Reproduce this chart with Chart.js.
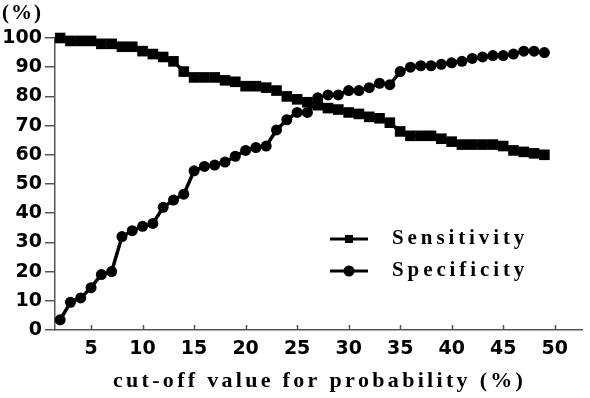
<!DOCTYPE html>
<html>
<head>
<meta charset="utf-8">
<script src="https://cdn.jsdelivr.net/npm/chart.js@4.4.1/dist/chart.umd.min.js"></script>
<style>
  html, body { margin: 0; padding: 0; background: #fff; }
  #caja { width: 590px; height: 398px; position: relative; }
</style>
</head>
<body>
<div id="caja"><canvas id="curva_corte"></canvas></div>
<script>
const cortes = [2, 3, 4, 5, 6, 7, 8, 9, 10, 11, 12, 13, 14, 15, 16, 17, 18, 19, 20, 21, 22, 23, 24, 25,
  26, 27, 28, 29, 30, 31, 32, 33, 34, 35, 36, 37, 38, 39, 40, 41, 42, 43, 44, 45, 46, 47, 48, 49];

const sensibilidad = [100, 99, 99, 99, 98, 98, 97, 97, 95.5, 94.5, 93.5, 92, 88.5, 86.5, 86.5, 86.5,
  85.5, 85, 83.5, 83.5, 83, 82, 80, 79, 78, 77, 76, 75.5, 74.5, 74, 73, 72.5, 71, 68, 66.5, 66.5,
  66.5, 65.5, 64.5, 63.5, 63.5, 63.5, 63.5, 63, 61.5, 61, 60.5, 60];

const especificidad = [3.5, 9.5, 11, 14.5, 19, 20, 32, 34, 35.5, 36.5, 42, 44.5, 46.5, 54.5, 56, 56.5,
  57.5, 59.5, 61.5, 62.5, 63, 68.5, 72, 74.5, 74.5, 79.5, 80.5, 80.5, 82, 82, 83, 84.5, 84, 88.5, 90,
  90.5, 90.5, 91, 91.5, 92, 93, 93.5, 94, 94, 94.5, 95.5, 95.5, 95];

const ticksX = [5, 10, 15, 20, 25, 30, 35, 40, 45, 50];
const etiquetas = ["Sensitivity", "Specificity"];
const tituloX = "cut-off value for probability (%)";
const tituloY = "(%)";

const serifa = '"Liberation Serif", "Times New Roman", serif';

function puntos(valores) {
  return cortes.map((c, i) => ({ x: c, y: valores[i] }));
}

// texto con espaciado: se dibuja letra a letra para no depender de letterSpacing
function textoEspaciado(ctx, texto, x, y, espacio) {
  let px = x;
  for (const ch of texto) {
    ctx.fillText(ch, px, y);
    px += ctx.measureText(ch).width + espacio;
  }
}

// textos, leyenda y marcas interiores del eje x
const extras = {
  id: "extras",
  afterDraw(chart) {
    const ctx = chart.ctx;
    const xs = chart.scales.x;
    const area = chart.chartArea;
    ctx.save();

    ctx.strokeStyle = "#555";
    ctx.lineWidth = 1.5;
    ticksX.forEach(v => {
      const px = Math.round(xs.getPixelForValue(v)) + 0.5;
      ctx.beginPath();
      ctx.moveTo(px, area.bottom);
      ctx.lineTo(px, area.bottom - 5);
      ctx.stroke();
    });

    ctx.fillStyle = "#000";
    ctx.textBaseline = "middle";
    ctx.textAlign = "left";

    ctx.font = "bold 21px " + serifa;
    textoEspaciado(ctx, tituloY, 2, 14, 2);

    ctx.font = "bold 22px " + serifa;
    textoEspaciado(ctx, tituloX, 113, 381, 3.3);

    // leyenda
    const filas = [239, 271];
    chart.data.datasets.forEach((ds, i) => {
      const y = filas[i];
      ctx.strokeStyle = "#000";
      ctx.lineWidth = 3;
      ctx.beginPath();
      ctx.moveTo(330, y);
      ctx.lineTo(368, y);
      ctx.stroke();
      ctx.fillStyle = "#000";
      if (ds.pointStyle === "rect") {
        ctx.fillRect(345, y - 4, 8, 8);
      } else {
        ctx.beginPath();
        ctx.arc(349, y, 5.5, 0, Math.PI * 2);
        ctx.fill();
      }
      ctx.font = "bold 21px " + serifa;
      textoEspaciado(ctx, ds.label, 392, y, 3.9);
    });

    ctx.restore();
  }
};

const ctx = document.getElementById("curva_corte").getContext("2d");

new Chart(ctx, {
  type: "line",
  data: {
    datasets: [
      {
        label: etiquetas[0],
        data: puntos(sensibilidad),
        borderColor: "#000",
        backgroundColor: "#000",
        borderWidth: 3.5,
        pointStyle: "rect",
        pointRadius: 7.5,
        pointBorderWidth: 0,
        tension: 0,
        clip: false,
      },
      {
        label: etiquetas[1],
        data: puntos(especificidad),
        borderColor: "#000",
        backgroundColor: "#000",
        borderWidth: 3.5,
        pointStyle: "circle",
        pointRadius: 5.5,
        pointBorderWidth: 0,
        tension: 0,
        clip: false,
      },
    ],
  },
  options: {
    responsive: true,
    maintainAspectRatio: false,
    animation: false,
    layout: {
      padding: { top: 38, left: 0, right: 3, bottom: 0 },
    },
    scales: {
      x: {
        type: "linear",
        min: 1.5,
        max: 52.7,
        afterBuildTicks: scale => {
          scale.ticks = ticksX.map(v => ({ value: v }));
        },
        afterFit: scale => {
          scale.height = 68;
        },
        grid: { display: true, drawOnChartArea: false, drawTicks: false },
        border: { display: true, color: "#555", width: 1.5 },
        ticks: {
          color: "#000",
          padding: 8,
          maxRotation: 0,
          font: { family: "'DejaVu Sans'", size: 19, weight: "bold" },
        },
      },
      y: {
        min: 0,
        max: 100,
        afterFit: scale => {
          scale.width = 55;
        },
        grid: { display: true, drawOnChartArea: false, drawTicks: true, tickLength: 10, color: "#555", lineWidth: 1.5 },
        border: { display: true, color: "#555", width: 1.5 },
        ticks: {
          stepSize: 10,
          color: "#000",
          padding: 3,
          font: { family: "'DejaVu Sans'", size: 19, weight: "bold" },
        },
      },
    },
    plugins: {
      legend: { display: false },
      tooltip: { enabled: false },
    },
  },
  plugins: [extras],
});
</script>
</body>
</html>
